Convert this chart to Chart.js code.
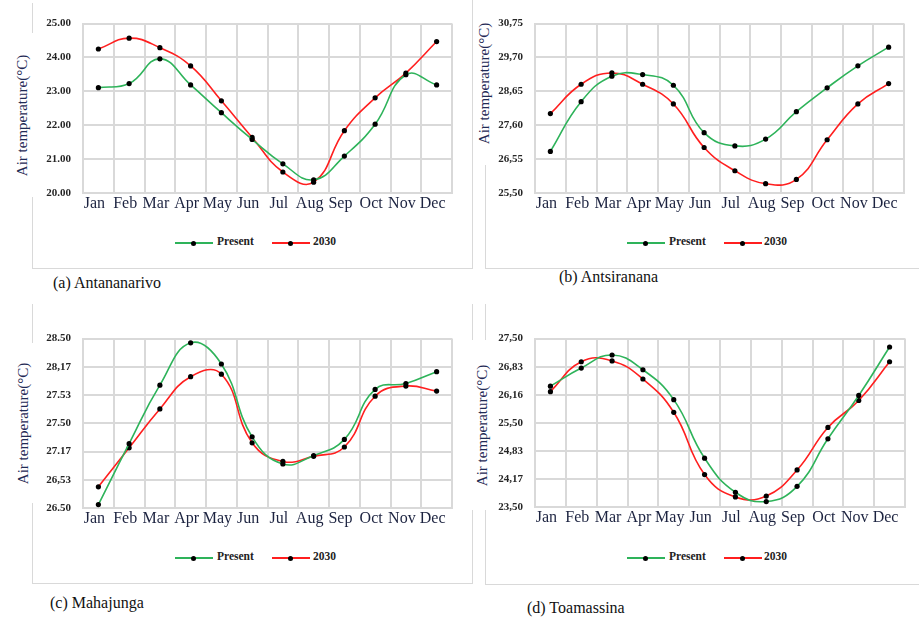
<!DOCTYPE html>
<html>
<head>
<meta charset="utf-8">
<script src="https://cdn.jsdelivr.net/npm/chart.js@4/dist/chart.umd.min.js"></script>
<style>
  html, body { margin:0; padding:0; background:#fff; }
  #page { position:relative; width:919px; height:618px; overflow:hidden; font-family:'Liberation Serif','Times New Roman',serif; }
  canvas { position:absolute; }
  .vline { position:absolute; width:0; border-left:1.5px solid #d9d9d9; }
  .hline { position:absolute; height:0; border-top:1.5px solid #d9d9d9; }
  .ytitle { position:absolute; background:#fff; color:#1f2a55; font-size:15px; white-space:nowrap; display:flex; align-items:center; justify-content:center; }
  .ytitle span { transform:rotate(-90deg); display:inline-block; }
  .legend { position:absolute; height:12px; font-size:11.5px; font-weight:bold; color:#222; }
  .legend .sw { position:absolute; top:5px; width:38px; height:0; border-top:2px solid; }
  .legend .sw::after { content:''; position:absolute; left:16px; top:-3.5px; width:5px; height:5px; border-radius:50%; background:#000; }
  .legend .tx { position:absolute; top:-2px; }
  .cap { position:absolute; font-size:16px; color:#111; white-space:nowrap; line-height:18px; }
</style>
</head>
<body>
<div id="page">
  <!-- panel frames -->
  <div class="vline" style="left:32px; top:3px; height:265px;"></div>
  <div class="vline" style="left:472px; top:0px; height:268px;"></div>
  <div class="hline" style="left:32px; top:268px; width:441px;"></div>
  <div class="vline" style="left:485px; top:3px; height:265px;"></div>
  <div class="hline" style="left:485px; top:268px; width:434px;"></div>

  <div class="vline" style="left:32px; top:304px; height:279px;"></div>
  <div class="vline" style="left:472px; top:304px; height:280px;"></div>
  <div class="hline" style="left:32px; top:583px; width:441px;"></div>
  <div class="vline" style="left:485px; top:304px; height:280px;"></div>
  <div class="hline" style="left:485px; top:584px; width:434px;"></div>

  <!-- axis titles -->
  <div class="ytitle" style="left:12px; top:33px; width:22px; height:164px;"><span>Air temperature(°C)</span></div>
  <div class="ytitle" style="left:474px; top:2px; width:21px; height:163px;"><span>Air temperature(°C)</span></div>
  <div class="ytitle" style="left:13px; top:343px; width:22px; height:160px;"><span>Air temperature(°C)</span></div>
  <div class="ytitle" style="left:472px; top:340px; width:21px; height:170px;"><span>Air temperature(°C)</span></div>

  <canvas id="chartA"></canvas>
  <canvas id="chartB"></canvas>
  <canvas id="chartC"></canvas>
  <canvas id="chartD"></canvas>

  <!-- legends -->
  <div class="legend" style="left:175px; top:237px;">
    <div class="sw" style="left:0; border-color:#2eb35a;"></div><div class="tx" style="left:42px;">Present</div>
    <div class="sw" style="left:97px; border-color:#ff1f1f;"></div><div class="tx" style="left:138px;">2030</div>
  </div>
  <div class="legend" style="left:627px; top:237px;">
    <div class="sw" style="left:0; border-color:#2eb35a;"></div><div class="tx" style="left:42px;">Present</div>
    <div class="sw" style="left:97px; border-color:#ff1f1f;"></div><div class="tx" style="left:137px;">2030</div>
  </div>
  <div class="legend" style="left:175px; top:552px;">
    <div class="sw" style="left:0; border-color:#2eb35a;"></div><div class="tx" style="left:42px;">Present</div>
    <div class="sw" style="left:97px; border-color:#ff1f1f;"></div><div class="tx" style="left:138px;">2030</div>
  </div>
  <div class="legend" style="left:627px; top:552px;">
    <div class="sw" style="left:0; border-color:#2eb35a;"></div><div class="tx" style="left:42px;">Present</div>
    <div class="sw" style="left:97px; border-color:#ff1f1f;"></div><div class="tx" style="left:137px;">2030</div>
  </div>

  <!-- captions -->
  <div class="cap" style="left:53px; top:274px;">(a) Antananarivo</div>
  <div class="cap" style="left:559px; top:268px;">(b) Antsiranana</div>
  <div class="cap" style="left:50px; top:594px;">(c) Mahajunga</div>
  <div class="cap" style="left:527px; top:599px;">(d) Toamassina</div>
</div>

<script>
const months = ['Jan', 'Feb', 'Mar', 'Apr', 'May', 'Jun', 'Jul', 'Aug', 'Sep', 'Oct', 'Nov', 'Dec'];

// (a) Antananarivo
const antananarivoPresent = [23.11, 23.23, 23.96, 23.19, 22.37, 21.58, 20.86, 20.39, 21.09, 22.03, 23.49, 23.19];
const antananarivo2030   = [24.25, 24.57, 24.29, 23.75, 22.72, 21.64, 20.62, 20.32, 21.84, 22.81, 23.54, 24.47];
const antananarivoTicks  = ['20.00', '21.00', '22.00', '23.00', '24.00', '25.00'];

// (b) Antsiranana
const antsirananaPresent = [26.79, 28.33, 29.12, 29.17, 28.84, 27.37, 26.96, 27.17, 28.02, 28.76, 29.44, 30.02];
const antsiranana2030   = [27.96, 28.87, 29.22, 28.87, 28.26, 26.91, 26.19, 25.79, 25.92, 27.15, 28.26, 28.89];
const antsirananaTicks  = ['25,50', '26,55', '27,60', '28,65', '29,70', '30,75'];

// (c) Mahajunga
const mahajungaPresent = [26.54, 27.26, 27.95, 28.45, 28.20, 27.34, 27.02, 27.12, 27.31, 27.90, 27.97, 28.11];
const mahajunga2030   = [26.75, 27.21, 27.67, 28.05, 28.08, 27.27, 27.05, 27.11, 27.22, 27.82, 27.94, 27.88];
const mahajungaTicks  = ['26.50', '26,53', '27.17', '27.50', '27.53', '28,17', '28.50'];

// (d) Toamassina
const toamassinaPresent = [26.37, 26.80, 27.11, 26.76, 26.05, 24.66, 23.85, 23.63, 23.99, 25.12, 26.15, 27.30];
const toamassina2030   = [26.24, 26.95, 26.97, 26.54, 25.75, 24.27, 23.74, 23.76, 24.38, 25.39, 26.03, 26.95];
const toamassinaTicks  = ['23,50', '24,17', '24,83', '25,50', '26,16', '26,83', '27,50'];

const GRID = '#d9d9d9';
const SERIF = "'Liberation Serif', 'Times New Roman', serif";

// box = canvas rect on the page, area = plot rect on the page
function drawPanel(id, box, area, yMin, yMax, tickLabels, present, future) {
  const el = document.getElementById(id);
  el.style.left = box.x + 'px';
  el.style.top = box.y + 'px';
  el.width = box.w;
  el.height = box.h;
  el.style.width = box.w + 'px';
  el.style.height = box.h + 'px';

  const yWidth = area.l - box.x;
  const xHeight = box.y + box.h - area.b;
  const step = (yMax - yMin) / (tickLabels.length - 1);

  new Chart(el, {
    type: 'line',
    data: {
      labels: months,
      datasets: [
        {
          label: 'Present',
          data: present,
          borderColor: '#2eb35a',
          borderWidth: 1.6,
          tension: 0.45,
          pointRadius: 2.6,
          pointBackgroundColor: '#000',
          pointBorderWidth: 0
        },
        {
          label: '2030',
          data: future,
          borderColor: '#ff1f1f',
          borderWidth: 1.6,
          tension: 0.45,
          pointRadius: 2.6,
          pointBackgroundColor: '#000',
          pointBorderWidth: 0
        }
      ]
    },
    options: {
      responsive: false,
      animation: false,
      events: [],
      layout: { padding: { top: area.t - box.y, right: box.x + box.w - area.r, left: 0, bottom: 0 } },
      plugins: { legend: { display: false }, tooltip: { enabled: false } },
      scales: {
        x: {
          offset: true,
          grid: { color: GRID, lineWidth: 2, offset: true, drawTicks: false },
          border: { color: GRID, width: 2 },
          ticks: {
            color: '#1c2340',
            font: { family: SERIF, size: 16 },
            padding: 1,
            labelOffset: -4,
            autoSkip: false,
            maxRotation: 0
          },
          afterFit: s => { s.height = xHeight; }
        },
        y: {
          min: yMin,
          max: yMax,
          grid: { color: GRID, lineWidth: 2, drawTicks: false },
          border: { color: GRID, width: 2 },
          afterBuildTicks: s => {
            s.ticks = tickLabels.map((_, i) => ({ value: yMin + i * step }));
          },
          ticks: {
            color: '#262626',
            font: { family: SERIF, size: 11, weight: 'bold' },
            padding: 12,
            callback: (v, i) => tickLabels[i]
          },
          afterFit: s => { s.width = yWidth; }
        }
      }
    }
  });
}

drawPanel('chartA', { x: 34, y: 5, w: 428, h: 215 }, { l: 83, t: 15, r: 452, b: 193 },
  20, 25, antananarivoTicks, antananarivoPresent, antananarivo2030);
drawPanel('chartB', { x: 496, y: 5, w: 420, h: 215 }, { l: 535, t: 15, r: 904, b: 193 },
  25.5, 30.75, antsirananaTicks, antsirananaPresent, antsiranana2030);
drawPanel('chartC', { x: 36, y: 320, w: 426, h: 215 }, { l: 83, t: 330, r: 452, b: 508 },
  26.5, 28.5, mahajungaTicks, mahajungaPresent, mahajunga2030);
drawPanel('chartD', { x: 496, y: 320, w: 420, h: 215 }, { l: 535, t: 330, r: 905, b: 507 },
  23.5, 27.5, toamassinaTicks, toamassinaPresent, toamassina2030);
</script>
</body>
</html>
